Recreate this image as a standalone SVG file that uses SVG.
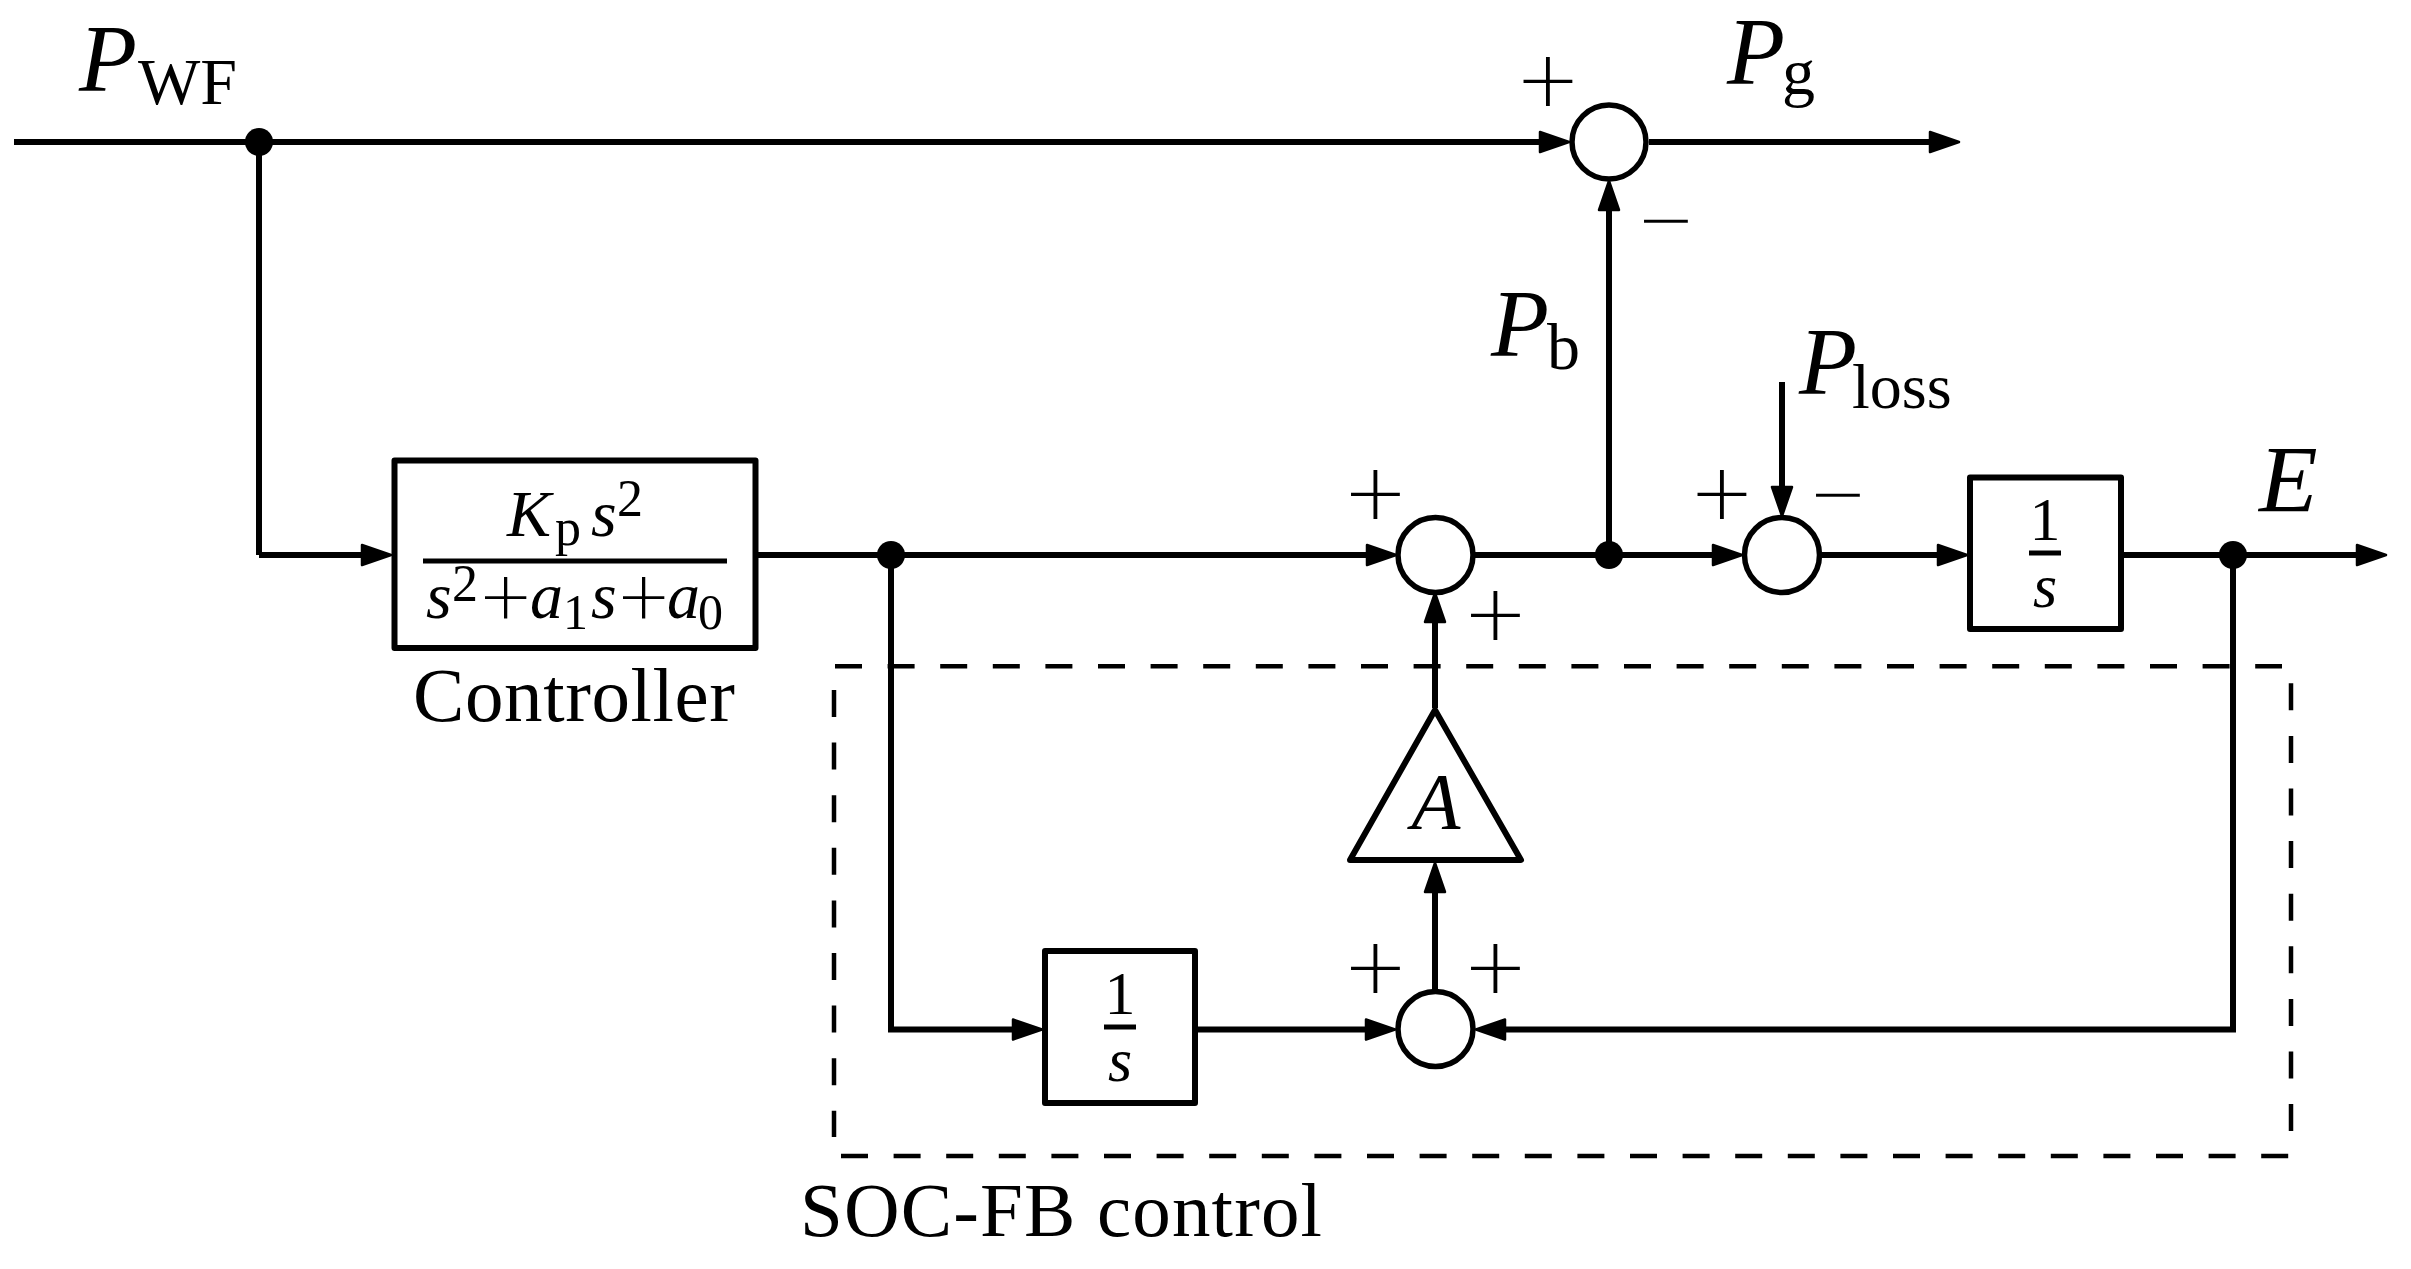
<svg xmlns="http://www.w3.org/2000/svg" width="2411" height="1269" viewBox="0 0 2411 1269">
<style>
.c{fill:none;stroke:#000;stroke-width:6;stroke-linejoin:miter}
.a{marker-end:url(#arrow)}
.b{fill:#fff;stroke:#000;stroke-width:6;stroke-linejoin:round}
.s{fill:#fff;stroke:#000;stroke-width:5.5}
.d{fill:#000;stroke:none}
.bar{stroke:#000;stroke-width:5;fill:none}
.dash{stroke:#000;stroke-width:4.5;fill:none;stroke-dasharray:27 25.6}
text{font-family:"Liberation Serif","Times New Roman",serif;fill:#000}
.i{font-style:italic}
.r{font-style:normal}
.sign{font-family:"DejaVu Sans",sans-serif;font-weight:200;text-anchor:middle;font-size:78px}
.minus{font-family:"DejaVu Sans",sans-serif;font-weight:200;text-anchor:middle;font-size:70px}
.op{font-family:"DejaVu Sans",sans-serif;font-weight:200;font-size:66px}
</style>
<defs>
<marker id="arrow" markerUnits="userSpaceOnUse" markerWidth="36" markerHeight="28" viewBox="0 0 36 28" refX="17" refY="14" orient="auto">
<path d="M3,4 L32,14 L3,24 Z" fill="#000" stroke="#000" stroke-width="2.5" stroke-linejoin="round"/>
</marker>
</defs>
<g id="connectors">
<path class="c a" d="M14,142 H1554"/>
<path class="c" d="M259,142 V555"/>
<path class="c a" d="M259,555 H376"/>
<path class="c a" d="M1649,142 H1944"/>
<path class="c a" d="M1609,555 V196"/>
<path class="c a" d="M755,555 H1381"/>
<path class="c a" d="M1475,555 H1727"/>
<path class="c a" d="M1782,382 V501"/>
<path class="c a" d="M1822,555 H1952"/>
<path class="c a" d="M2121,555 H2371"/>
<path class="c a" d="M2233,555 V1029.5 H1491"/>
<path class="c a" d="M891,555 V1029.5 H1027"/>
<path class="c a" d="M1195,1029.5 H1380"/>
<path class="c a" d="M1435,989 V878"/>
<path class="c a" d="M1435,708 V608"/>
</g>
<g id="soc-fb-frame">
<path class="dash" d="M835,666.3 H2282"/>
<path class="dash" d="M2291,683.3 V1135"/>
<path class="dash" d="M841,1156 H2291"/>
<path class="dash" d="M834,690 V1137"/>
<text x="800" y="1236" font-size="77" textLength="522">SOC-FB control</text>
</g>
<g id="input-label"><text y="91"><tspan class="i" x="79" font-size="95">P</tspan><tspan class="r" x="138" y="104" font-size="66">WF</tspan></text></g>
<g id="junction-1"><circle class="d" cx="259" cy="142" r="14"/></g>
<g id="junction-2"><circle class="d" cx="891" cy="555" r="14"/></g>
<g id="junction-3"><circle class="d" cx="1609" cy="555" r="14"/></g>
<g id="junction-4"><circle class="d" cx="2233" cy="555" r="14"/></g>
<g id="controller">
<rect class="b" x="394.5" y="460.5" width="361" height="187.5"/>
<path class="bar" d="M423,561 H727"/>
<text y="536"><tspan class="i" x="507" font-size="66">K</tspan><tspan class="r" x="555" y="545" font-size="52">p</tspan><tspan class="i" x="591" y="536" font-size="66">s</tspan><tspan class="r" x="617" y="516" font-size="52">2</tspan></text>
<text y="618"><tspan class="i" x="426" font-size="66">s</tspan><tspan class="r" x="452" y="601" font-size="52">2</tspan><tspan class="op" x="478" y="618">+</tspan><tspan class="i" x="530" font-size="66">a</tspan><tspan class="r" x="563" y="629" font-size="50">1</tspan><tspan class="i" x="591" y="618" font-size="66">s</tspan><tspan class="op" x="616">+</tspan><tspan class="i" x="667" font-size="66">a</tspan><tspan class="r" x="698" y="629" font-size="50">0</tspan></text>
<text x="413" y="721" font-size="77" textLength="322">Controller</text>
</g>
<g id="sum-top">
<circle class="s" cx="1609" cy="142" r="37"/>
<text class="sign" x="1548" y="105.5">+</text>
<text class="minus" x="1666" y="243">−</text>
<text y="84"><tspan class="i" x="1727" font-size="95">P</tspan><tspan class="r" x="1782" y="94" font-size="66">g</tspan></text>
</g>
<g id="pb-label"><text y="356"><tspan class="i" x="1491" font-size="95">P</tspan><tspan class="r" x="1547" y="369" font-size="66">b</tspan></text></g>
<g id="sum-mid">
<circle class="s" cx="1435.5" cy="555" r="37.5"/>
<text class="sign" x="1375.5" y="519">+</text>
<text class="sign" x="1495.5" y="640">+</text>
</g>
<g id="sum-loss">
<circle class="s" cx="1782" cy="555" r="37.5"/>
<text class="sign" x="1722" y="519">+</text>
<text class="minus" x="1838" y="517">−</text>
<text y="394"><tspan class="i" x="1799" font-size="95">P</tspan><tspan class="r" x="1852" y="408" font-size="64">loss</tspan></text>
</g>
<g id="integrator-top">
<rect class="b" x="1970" y="477.5" width="151" height="151.5"/>
<path class="bar" d="M2029,553 H2061"/>
<text class="r" x="2045" y="540" font-size="62" text-anchor="middle">1</text>
<text class="i" x="2045" y="607" font-size="62" text-anchor="middle">s</text>
</g>
<g id="energy-label"><text class="i" x="2259" y="512" font-size="96">E</text></g>
<g id="gain">
<path class="b" d="M1435,710 L1521,860 H1350 Z"/>
<text class="i" x="1436" y="829" font-size="80" text-anchor="middle">A</text>
</g>
<g id="integrator-bottom">
<rect class="b" x="1045" y="951" width="150" height="152"/>
<path class="bar" d="M1104,1027 H1136"/>
<text class="r" x="1120" y="1014" font-size="62" text-anchor="middle">1</text>
<text class="i" x="1120" y="1081" font-size="62" text-anchor="middle">s</text>
</g>
<g id="sum-bottom">
<circle class="s" cx="1435.5" cy="1029" r="37.5"/>
<text class="sign" x="1375.5" y="993">+</text>
<text class="sign" x="1495.5" y="993">+</text>
</g>
</svg>
